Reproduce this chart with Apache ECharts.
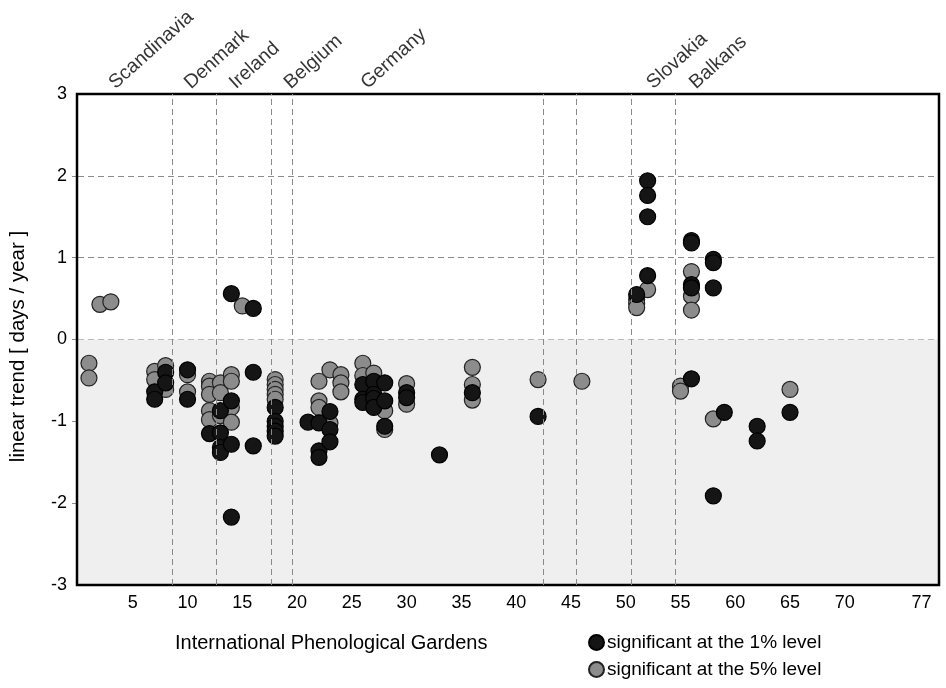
<!DOCTYPE html>
<html>
<head>
<meta charset="utf-8">
<script src="https://cdn.jsdelivr.net/npm/echarts@6/dist/echarts.min.js"></script>
<style>
  html, body { margin: 0; padding: 0; background: #ffffff; }
  #chart { width: 946px; height: 688px; }
</style>
</head>
<body>
<div id="chart"></div>
<script>
// Linear trends (days / year) per International Phenological Garden, by significance level.
// Each entry: [garden number, trend]
const level1Points = [
  [7, -0.64], [7, -0.73],
  [8, -0.40], [8, -0.53],
  [10, -0.37], [10, -0.73],
  [12, -1.15],
  [13, -0.87], [13, -1.14], [13, -1.32], [13, -1.38],
  [14, 0.56], [14, -0.75], [14, -1.28], [14, -2.17],
  [16, 0.38], [16, -0.40], [16, -1.30],
  [18, -0.83], [18, -1.00], [18, -1.06], [18, -1.12], [18, -1.18],
  [21, -1.01],
  [22, -1.02], [22, -1.36], [22, -1.44],
  [23, -0.88], [23, -1.10], [23, -1.25],
  [26, -0.55], [26, -0.73], [26, -0.77],
  [27, -0.51], [27, -0.67], [27, -0.72], [27, -0.83],
  [28, -0.53], [28, -0.75], [28, -1.06],
  [30, -0.65], [30, -0.71],
  [33, -1.41],
  [36, -0.65],
  [42, -0.94],
  [51, 0.55],
  [52, 1.94], [52, 1.76], [52, 1.50], [52, 0.78],
  [56, 1.21], [56, 1.18], [56, 0.67], [56, 0.63], [56, -0.48],
  [58, 0.98], [58, 0.94], [58, 0.63], [58, -1.91],
  [59, -0.89],
  [62, -1.06], [62, -1.24],
  [65, -0.89]
];

const level5Points = [
  [1, -0.29], [1, -0.47],
  [2, 0.43], [3, 0.46],
  [7, -0.39], [7, -0.49],
  [8, -0.32], [8, -0.61],
  [10, -0.43], [10, -0.64],
  [12, -0.51], [12, -0.57], [12, -0.67], [12, -0.87], [12, -0.98],
  [13, -0.53], [13, -0.65], [13, -0.93],
  [14, -0.43], [14, -0.51], [14, -0.83], [14, -1.01],
  [15, 0.41],
  [18, -0.49], [18, -0.55], [18, -0.61], [18, -0.67], [18, -0.73],
  [22, -0.51], [22, -0.75], [22, -0.83],
  [23, -0.37], [23, -1.02],
  [24, -0.43], [24, -0.53], [24, -0.64],
  [26, -0.29], [26, -0.44],
  [27, -0.41],
  [28, -0.87], [28, -1.10],
  [30, -0.54], [30, -0.79],
  [36, -0.34], [36, -0.55], [36, -0.74],
  [42, -0.49],
  [46, -0.51],
  [51, 0.49], [51, 0.44], [51, 0.39],
  [52, 0.61],
  [55, -0.57], [55, -0.63],
  [56, 0.83], [56, 0.53], [56, 0.36],
  [58, -0.97],
  [65, -0.61]
];

// Country / region groups along the garden axis
const regionNames = ['Scandinavia', 'Denmark', 'Ireland', 'Belgium', 'Germany', 'Slovakia', 'Balkans'];
const regionLabelAt = [3.7, 10.6, 14.7, 19.7, 26.7, 52.8, 56.7];
const regionDividers = [8.6, 12.6, 17.6, 19.6, 42.5, 45.5, 50.5, 54.5];

// Axis ticks
const xTickValues = [5, 10, 15, 20, 25, 30, 35, 40, 45, 50, 55, 60, 65, 70, 77];
const yGridValues = [-2, -1, 0, 1, 2];

const legend1 = 'significant at the 1% level';
const legend5 = 'significant at the 5% level';

const FONT = '"Liberation Sans", Arial, Helvetica, sans-serif';
const GRID_LINE = { color: '#8a8a8a', width: 1, type: [6, 4] };

const chart = echarts.init(document.getElementById('chart'), null, { renderer: 'canvas' });

chart.setOption({
  animation: false,
  textStyle: { fontFamily: FONT, color: '#000' },
  title: {
    text: 'International Phenological Gardens',
    left: 170,
    top: 628,
    textStyle: { fontFamily: FONT, fontSize: 20, fontWeight: 'normal', color: '#000' }
  },
  legend: {
    data: [legend1, legend5],
    orient: 'vertical',
    left: 583,
    top: 628,
    height: 60,
    icon: 'circle',
    itemWidth: 15,
    itemHeight: 15,
    itemGap: 8,
    textStyle: { fontFamily: FONT, fontSize: 19, color: '#000', padding: [0, 0, 0, -2] }
  },
  grid: [
    { left: 77, right: 7, top: 94, bottom: 103, show: false },
    // frame drawn above the marks
    { left: 77, right: 7, top: 94, bottom: 103, show: true, z: 5,
      borderColor: '#000', borderWidth: 2.5, backgroundColor: 'transparent' }
  ],
  xAxis: [
    {
      gridIndex: 0, type: 'value', min: 0, max: 78.6,
      axisLine: { show: false },
      axisTick: { show: false },
      splitLine: { show: false },
      axisLabel: {
        customValues: xTickValues,
        fontFamily: FONT, fontSize: 18, color: '#000', margin: 9
      }
    },
    { gridIndex: 1, type: 'value', min: 0, max: 1, show: false }
  ],
  yAxis: [
    {
      gridIndex: 0, type: 'value', min: -3, max: 3, interval: 1,
      axisLine: { show: false },
      axisTick: { show: true, length: 7, customValues: yGridValues, lineStyle: GRID_LINE },
      splitLine: { show: true, lineStyle: GRID_LINE },
      axisLabel: { fontFamily: FONT, fontSize: 18, color: '#000', margin: 11 },
      name: 'linear trend [ days / year ]',
      nameLocation: 'middle',
      nameGap: 49,
      nameTextStyle: { fontFamily: FONT, fontSize: 20.5, color: '#000', padding: [0, 14, 0, 0] }
    },
    { gridIndex: 1, type: 'value', min: 0, max: 1, show: false }
  ],
  series: [
    {
      // shaded band for negative trends
      name: 'negative band', type: 'scatter', data: [], z: -1, silent: true,
      markArea: {
        silent: true,
        itemStyle: { color: '#efefef' },
        data: [[{ yAxis: -3 }, { yAxis: 0 }]]
      }
    },
    {
      // region boundaries
      name: 'region dividers', type: 'scatter', data: [], z: 1, silent: true,
      markLine: {
        silent: true,
        symbol: 'none',
        label: { show: false },
        lineStyle: GRID_LINE,
        data: regionDividers.map(v => ({ xAxis: v }))
      }
    },
    {
      name: legend5, type: 'scatter', symbol: 'circle', symbolSize: 16, z: 2,
      itemStyle: { color: '#8c8c8c', borderColor: '#222', borderWidth: 1.2, opacity: 1 },
      data: level5Points
    },
    {
      name: legend1, type: 'scatter', symbol: 'circle', symbolSize: 16, z: 3,
      itemStyle: { color: '#151515', borderColor: '#000', borderWidth: 1.2, opacity: 1 },
      data: level1Points
    },
    {
      // region names above the plot
      name: 'regions', type: 'scatter', symbolSize: 0, silent: true, z: 6,
      data: regionNames.map((n, i) => ({ name: n, value: [regionLabelAt[i], 3] })),
      label: {
        show: true,
        formatter: p => p.name,
        position: 'top',
        distance: 1,
        align: 'left',
        verticalAlign: 'bottom',
        rotate: 42,
        fontFamily: FONT,
        fontSize: 19.5,
        color: '#000'
      }
    }
  ]
});
</script>
</body>
</html>
